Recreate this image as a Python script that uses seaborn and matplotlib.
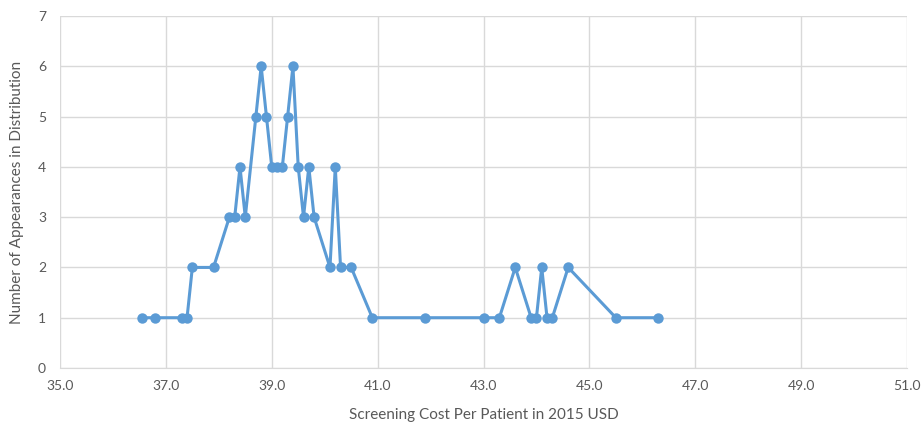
import matplotlib
matplotlib.use("Agg")
import matplotlib.pyplot as plt
import seaborn as sns
import pandas as pd

# screening cost values and how often each appears in the distribution
cost = [36.55, 36.8, 37.3, 37.4, 37.5, 37.9, 38.2, 38.3, 38.4, 38.5,
        38.7, 38.8, 38.9, 39.0, 39.1, 39.2, 39.3, 39.4, 39.5, 39.6,
        39.7, 39.8, 40.1, 40.2, 40.3, 40.5, 40.9, 41.9, 43.0, 43.3,
        43.6, 43.9, 44.0, 44.1, 44.2, 44.3, 44.6, 45.5, 46.3]
count = [1, 1, 1, 1, 2, 2, 3, 3, 4, 3,
         5, 6, 5, 4, 4, 4, 5, 6, 4, 3,
         4, 3, 2, 4, 2, 2, 1, 1, 1, 1,
         2, 1, 1, 2, 1, 1, 2, 1, 1]
x_ticks = [35.0, 37.0, 39.0, 41.0, 43.0, 45.0, 47.0, 49.0, 51.0]
y_ticks = [0, 1, 2, 3, 4, 5, 6, 7]

df = pd.DataFrame({"cost": cost, "count": count})

sns.set_style("white")
plt.rcParams["font.family"] = ["Lato", "DejaVu Sans"]

fig = plt.figure(figsize=(9.22, 4.24), dpi=100)
ax = fig.add_axes([60 / 922, 1 - 368 / 424, 847 / 922, 352 / 424])

blue = "#5B9BD5"
sns.lineplot(data=df, x="cost", y="count", ax=ax, color=blue, linewidth=2.2,
             marker="o", markersize=7.5, markeredgewidth=0, sort=False)

ax.set_xlim(35, 51)
ax.set_ylim(0, 7)
ax.set_xticks(x_ticks)
ax.set_xticklabels([f"{v:.1f}" for v in x_ticks])
ax.set_yticks(y_ticks)
ax.grid(True, color="#D9D9D9", linewidth=1)
ax.set_axisbelow(True)

for s in ["top", "right", "left"]:
    ax.spines[s].set_visible(False)
ax.spines["bottom"].set_color("#D9D9D9")

ax.tick_params(axis="both", length=0, labelsize=10, labelcolor="#595959")
ax.tick_params(axis="x", pad=9)
ax.tick_params(axis="y", pad=10)
ax.set_xlabel("Screening Cost Per Patient in 2015 USD", fontsize=11,
              color="#595959", labelpad=11)
ax.set_ylabel("Number of Appearances in Distribution", fontsize=11,
              color="#595959", labelpad=10)

fig.savefig("out.png", dpi=100)
